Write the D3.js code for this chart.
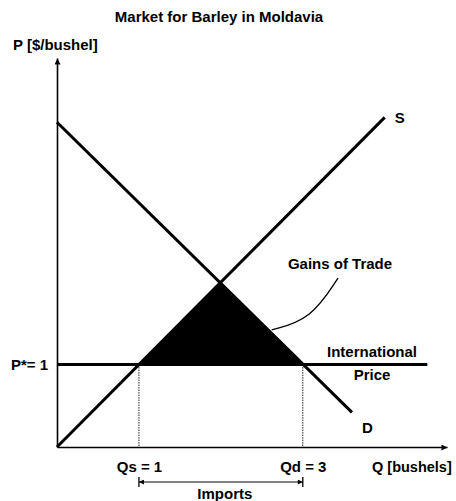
<!DOCTYPE html>
<html><head><meta charset="utf-8">
<script src="https://cdn.jsdelivr.net/npm/d3@7"></script>
<style>
html,body{margin:0;padding:0;background:#fff;}
svg{display:block;font-family:"Liberation Sans",Arial,sans-serif;font-weight:bold;}
</style></head>
<body><svg id="c" width="456" height="501"></svg>
<script>
// ---- data ----
const title = "Market for Barley in Moldavia";
const yAxisLabel = "P [$/bushel]";
const xAxisLabel = "Q [bushels]";
const supplyPts = [{q:0,p:0},{q:4,p:4}];
const demandPts = [{q:0,p:3.94},{q:3.6,p:0.42}];
const worldPrice = 1;
const worldPriceEnd = 4.52;
const qSupplied = 1, qDemanded = 3;
const xTickVals = [1, 3];
const xTickLabels = ["Qs = 1", "Qd = 3"];
const yTickVals = [1];
const yTickLabels = ["P*= 1"];
const leaderPts = [{q:3.43,p:2.05},{q:3.1,p:1.55},{q:2.62,p:1.42}];

// ---- scales ----
const svg = d3.select("#c");
const x = d3.scaleLinear().domain([0,4.76]).range([57,447]);
const y = d3.scaleLinear().domain([0,4.72]).range([447,58]);

const defs = svg.append("defs");
defs.append("marker").attr("id","ah").attr("viewBox","0 0 10 10")
  .attr("refX",10).attr("refY",5).attr("markerWidth",10).attr("markerHeight",6)
  .attr("markerUnits","userSpaceOnUse").attr("orient","auto-start-reverse")
  .append("path").attr("d","M0,0L10,5L0,10Z").attr("fill","#000");
defs.append("marker").attr("id","ah2").attr("viewBox","0 0 10 10")
  .attr("refX",10).attr("refY",5).attr("markerWidth",9).attr("markerHeight",5)
  .attr("markerUnits","userSpaceOnUse").attr("orient","auto-start-reverse")
  .append("path").attr("d","M0,0L10,5L0,10Z").attr("fill","#000");

// title
svg.append("text").attr("x",219).attr("y",17).attr("dy","0.35em")
  .attr("text-anchor","middle").attr("font-size",15).text(title);
svg.append("text").attr("x",13).attr("y",45).attr("dy","0.35em")
  .attr("font-size",15).text(yAxisLabel);

// demand line helper
const dSlope = (demandPts[1].p-demandPts[0].p)/(demandPts[1].q-demandPts[0].q);
const sSlope = (supplyPts[1].p-supplyPts[0].p)/(supplyPts[1].q-supplyPts[0].q);
const qEq = (demandPts[0].p - supplyPts[0].p)/(sSlope - dSlope);
const pEq = supplyPts[0].p + sSlope*qEq;

// gains of trade triangle
svg.append("path")
  .datum([{q:qSupplied,p:worldPrice},{q:qEq,p:pEq},{q:qDemanded,p:worldPrice}])
  .attr("d", d3.line().x(d=>x(d.q)).y(d=>y(d.p)).curve(d3.curveLinearClosed))
  .attr("fill","#000");

// dotted verticals
svg.selectAll(".vd").data([qSupplied,qDemanded]).join("line")
  .attr("x1",d=>x(d)).attr("x2",d=>x(d)).attr("y1",y(worldPrice)).attr("y2",y(0))
  .attr("stroke","#222").attr("stroke-width",1).attr("stroke-dasharray","1.5,1");

// axes
const xAxis = d3.axisBottom(x).tickValues(xTickVals)
  .tickFormat((d,i)=>xTickLabels[i]).tickSize(0).tickSizeOuter(0).tickPadding(14);
const gx = svg.append("g").attr("transform",`translate(0,${y(0)})`).call(xAxis);
const yAxis = d3.axisLeft(y).tickValues(yTickVals)
  .tickFormat((d,i)=>yTickLabels[i]).tickSize(0).tickSizeOuter(0).tickPadding(9);
const gy = svg.append("g").attr("transform",`translate(${x(0)},0)`).call(yAxis);
[gx,gy].forEach(g=>{
  g.select(".domain").attr("stroke-width",1.6).attr("marker-end","url(#ah)");
  g.selectAll("text").attr("font-size",15).attr("font-family","Liberation Sans, Arial, sans-serif")
   .attr("font-weight","bold").attr("fill","#000");
});
svg.append("text").attr("x",372).attr("y",467).attr("dy","0.35em")
  .attr("font-size",14.5).text(xAxisLabel);

// supply & demand & price line
const line = d3.line().x(d=>x(d.q)).y(d=>y(d.p));
svg.append("path").datum(supplyPts).attr("d",line).attr("stroke","#000").attr("stroke-width",3).attr("fill","none");
svg.append("path").datum(demandPts).attr("d",line).attr("stroke","#000").attr("stroke-width",3).attr("fill","none");
svg.append("path").datum([{q:0,p:worldPrice},{q:worldPriceEnd,p:worldPrice}]).attr("d",line)
  .attr("stroke","#000").attr("stroke-width",3).attr("fill","none");

// labels
svg.append("text").attr("x",x(supplyPts[1].q)+10).attr("y",y(supplyPts[1].p)).attr("dy","0.35em")
  .attr("font-size",15).text("S");
svg.append("text").attr("x",x(demandPts[1].q)+10).attr("y",y(demandPts[1].p)+15).attr("dy","0.35em")
  .attr("font-size",15).text("D");
svg.append("text").attr("x",340).attr("y",264).attr("dy","0.35em").attr("text-anchor","middle")
  .attr("font-size",15).text("Gains of Trade");
svg.append("text").attr("x",372).attr("y",352).attr("dy","0.35em").attr("text-anchor","middle")
  .attr("font-size",15).text("International");
svg.append("text").attr("x",372).attr("y",375).attr("dy","0.35em").attr("text-anchor","middle")
  .attr("font-size",15).text("Price");

// leader curve
svg.append("path").datum(leaderPts)
  .attr("d", d3.line().x(d=>x(d.q)).y(d=>y(d.p)).curve(d3.curveBasis))
  .attr("stroke","#000").attr("stroke-width",1.3).attr("fill","none");

// imports arrow
const iy = 482;
svg.append("line").attr("x1",x(qSupplied)).attr("x2",x(qDemanded)).attr("y1",iy).attr("y2",iy)
  .attr("stroke","#000").attr("stroke-width",1.2)
  .attr("marker-start","url(#ah2)").attr("marker-end","url(#ah2)");
svg.selectAll(".ib").data([qSupplied,qDemanded]).join("line")
  .attr("x1",d=>x(d)).attr("x2",d=>x(d)).attr("y1",iy-5).attr("y2",iy+5)
  .attr("stroke","#000").attr("stroke-width",1.3);
svg.append("text").attr("x",(x(qSupplied)+x(qDemanded))/2+4).attr("y",494).attr("dy","0.35em")
  .attr("text-anchor","middle").attr("font-size",15).text("Imports");
</script></body></html>
